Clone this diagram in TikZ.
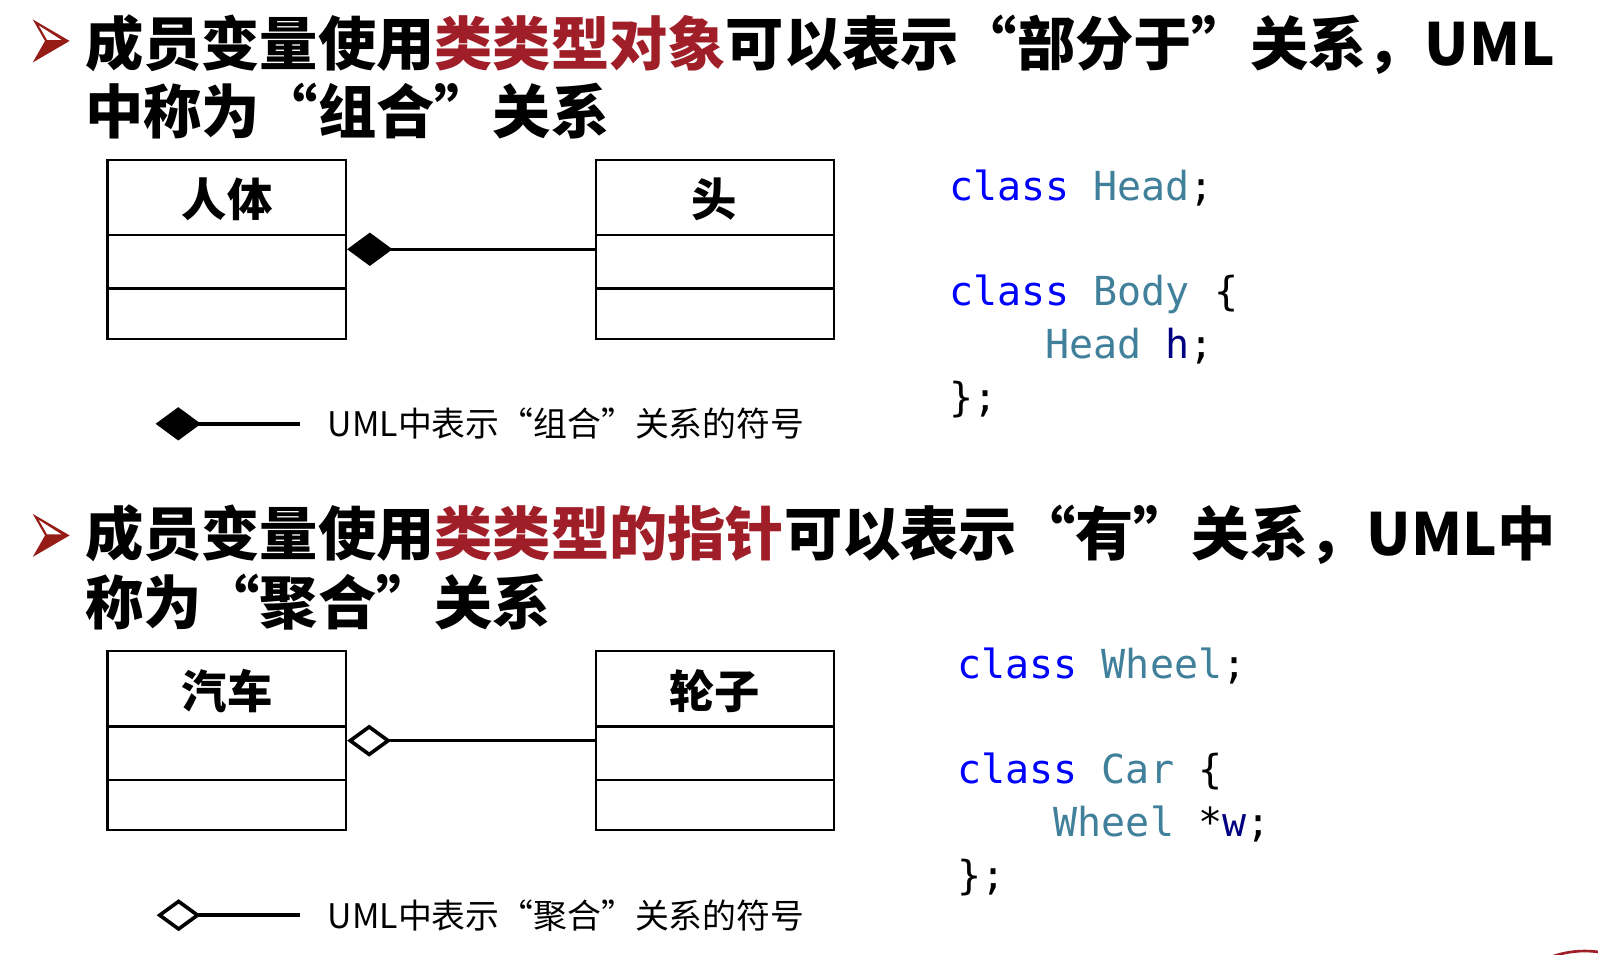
\documentclass[tikz,border=0pt]{standalone}
\usepackage{fontspec}
\usetikzlibrary{arrows.meta}
\setmainfont{Noto Sans CJK SC}
\newfontfamily\codefont{DejaVu Sans Mono}
\definecolor{hl}{RGB}{160,30,40}
\definecolor{bullet}{RGB}{150,28,22}
\definecolor{kw}{RGB}{0,0,255}
\definecolor{ty}{RGB}{65,128,155}
\definecolor{var}{RGB}{0,0,128}
\tikzset{
  x=0.768pt, y=-0.768pt,
  title/.style={anchor=base west, inner sep=0pt, font=\fontsize{43.7pt}{51pt}\selectfont\bfseries},
  clsbox/.style={draw, line width=1.8pt, minimum width=178.9pt, minimum height=134.4pt, inner sep=0pt},
  clsname/.style={inner sep=0pt, font=\fontsize{34pt}{40pt}\selectfont\bfseries},
  legend/.style={anchor=west, inner sep=0pt, font=\fontsize{25.4pt}{30pt}\selectfont},
  code/.style={anchor=base west, inner sep=0pt, font=\fontsize{30pt}{35pt}\selectfont\codefont},
  compo/.style={line width=2.6pt, {Diamond[length=34pt,width=25pt]}-},
  aggr/.style={line width=2.6pt, {Diamond[open,length=33pt,width=24pt,fill=white,line width=2.7pt]}-},
  divider/.style={line width=1.8pt}
}
\begin{document}
\begin{tikzpicture}
\useasboundingbox (0,0) rectangle (1561,932);
\fill[white] (0,0) rectangle (1561,932);

% bullets
\foreach \yy in {0,483}{
  \begin{scope}[yshift=-\yy*0.768pt]
  \fill[bullet] (32,19) -- (68,40) -- (32,61) -- (44,40) -- cycle;
  \fill[white] (38,25) -- (60,39) -- (46,39) -- cycle;
  \end{scope}
}

% titles
\node[title] (t1a) at (83,64) {成员变量使用\textcolor{hl}{类类型对象}可以表示“部分于”关系，UML};
\node[title] (t1b) at (83,130) {中称为“组合”关系};
\node[title] (t2a) at (83,543) {成员变量使用\textcolor{hl}{类类型的指针}可以表示“有”关系，UML中};
\node[title] (t2b) at (83,610) {称为“聚合”关系};

% composition diagram
\node[clsbox] (body) at (221.5,243.5) {};
\node[clsbox] (head) at (698.5,243.5) {};
\foreach \b in {body,head}{
  \draw[divider] (\b.north west) ++(0,75) -- ++(233,0);
  \draw[divider] (\b.north west) ++(0,127) -- ++(233,0);
}
\node[clsname] (bodyname) at (222,195) {人体};
\node[clsname] (headname) at (698,195) {头};
\draw[compo] (body.east) -- (head.west);

\coordinate (l1a) at (152,414);
\coordinate (l1b) at (293,414);
\draw[compo] (l1a) -- (l1b);
\node[legend] (leg1) at (320,414) {UML中表示“组合”关系的符号};

% aggregation diagram
\node[clsbox] (car) at (221.5,723.5) {};
\node[clsbox] (wheel) at (698.5,723.5) {};
\foreach \b in {car,wheel}{
  \draw[divider] (\b.north west) ++(0,75) -- ++(233,0);
  \draw[divider] (\b.north west) ++(0,127) -- ++(233,0);
}
\node[clsname] (carname) at (222,675) {汽车};
\node[clsname] (wheelname) at (698,675) {轮子};
\draw[aggr] (car.east) -- (wheel.west);

\coordinate (l2a) at (153,894);
\coordinate (l2b) at (293,894);
\draw[aggr] (l2a) -- (l2b);
\node[legend] (leg2) at (320,894) {UML中表示“聚合”关系的符号};

% code 1
\node[code] (c1) at (927,196) {\textcolor{kw}{class} \textcolor{ty}{Head};};
\node[code] (c2) at (927,298) {\textcolor{kw}{class} \textcolor{ty}{Body} \{};
\node[code] (c3) at (927,350) {\phantom{xxxx}\textcolor{ty}{Head} \textcolor{var}{h};};
\node[code] (c4) at (927,402) {\};};

% code 2
\node[code] (d1) at (935,663) {\textcolor{kw}{class} \textcolor{ty}{Wheel};};
\node[code] (d2) at (935,765) {\textcolor{kw}{class} \textcolor{ty}{Car} \{};
\node[code] (d3) at (935,817) {\phantom{xxxx}\textcolor{ty}{Wheel} *\textcolor{var}{w};};
\node[code] (d4) at (935,869) {\};};

% red fragment bottom right
\begin{scope}
\clip (0,0) rectangle (1561,932);
\draw[hl, line width=2pt] (1548,1025) circle (96);
\end{scope}
\end{tikzpicture}
\end{document}
